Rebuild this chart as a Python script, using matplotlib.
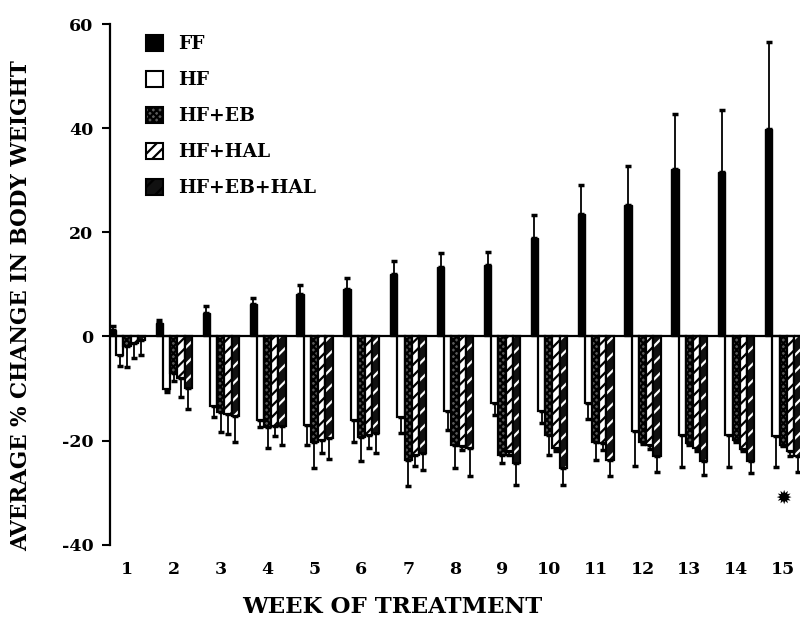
import matplotlib
matplotlib.use("Agg")
import matplotlib.pyplot as plt
import numpy as np
from matplotlib.patches import Patch

weeks = list(range(1, 16))
groups = ["FF", "HF", "HF+EB", "HF+HAL", "HF+EB+HAL"]

ff = [1.2, 2.6, 4.6, 6.3, 8.2, 9.1, 12.0, 13.4, 13.8, 19.0, 23.5, 25.3, 32.2, 31.6, 39.8]
ff_err = [0.9, 0.5, 1.2, 1.0, 1.7, 2.1, 2.5, 2.6, 2.5, 4.4, 5.5, 7.5, 10.6, 11.8, 16.8]

hf = [-3.5, -10.0, -13.4, -16.0, -17.0, -16.0, -15.4, -14.4, -12.8, -14.4, -12.8, -18.2, -18.9, -18.9, -19.2]
hf_err = [2.1, 0.6, 2.0, 1.4, 3.8, 4.2, 3.2, 3.6, 2.2, 2.2, 3.1, 6.6, 6.1, 6.1, 5.8]

hf_eb = [-1.8, -7.0, -14.6, -17.3, -20.2, -19.4, -23.7, -20.8, -22.7, -18.9, -20.2, -20.2, -20.5, -19.8, -20.8]
hf_eb_err = [4.1, 1.5, 3.8, 4.2, 5.1, 4.6, 5.1, 4.5, 1.6, 3.8, 3.5, 0.5, 0.4, 0.4, 0.3]

hf_hal = [-1.3, -8.0, -14.8, -17.2, -19.8, -18.9, -22.7, -21.0, -22.0, -21.4, -20.5, -20.8, -21.4, -21.6, -22.0]
hf_hal_err = [2.8, 3.7, 4.0, 2.0, 2.5, 2.5, 2.1, 0.8, 0.7, 0.5, 1.3, 0.8, 0.6, 0.4, 1.0]

hf_eb_hal = [-0.6, -9.9, -15.2, -17.2, -19.5, -18.6, -22.4, -21.4, -24.3, -25.3, -23.7, -23.0, -24.0, -24.0, -23.0]
hf_eb_hal_err = [3.0, 4.1, 5.0, 3.7, 4.1, 3.8, 3.2, 5.4, 4.2, 3.2, 3.1, 3.1, 2.6, 2.2, 3.0]

star_week = 15
star_value = -31

plt.rcParams['font.family'] = ['DejaVu Serif', 'Liberation Serif']
plt.rcParams['font.weight'] = 'bold'
plt.rcParams['axes.unicode_minus'] = False
plt.rcParams['hatch.linewidth'] = 1.6

fig = plt.figure(figsize=(8, 6.24), dpi=100)
ax = fig.add_axes([0.1375, 0.127, 0.8625, 0.8345])

x = np.array(weeks, dtype=float)
w = 0.154

def errs(vals, e):
    vals = np.array(vals); e = np.array(e)
    lower = np.where(vals < 0, e, 0)
    upper = np.where(vals >= 0, e, 0)
    return [lower, upper]

ekw = dict(ecolor='black', elinewidth=1.3, capsize=2.5, capthick=2.5)

# FF
ax.bar(x - 2*w, ff, w, color='black', edgecolor='black', linewidth=1.0, zorder=2)
ax.errorbar(x - 2*w, ff, yerr=errs(ff, ff_err), fmt='none', zorder=1, **ekw)
# HF
ax.bar(x - w, hf, w, color='white', edgecolor='black', linewidth=1.6, zorder=2)
ax.errorbar(x - w, hf, yerr=errs(hf, hf_err), fmt='none', zorder=1, **ekw)
# HF+EB
ax.bar(x, hf_eb, w, color='#5a5a5a', edgecolor='black', hatch='xxxxx', linewidth=1.6, zorder=2)
ax.errorbar(x, hf_eb, yerr=errs(hf_eb, hf_eb_err), fmt='none', zorder=1, **ekw)
# HF+HAL
ax.bar(x + w, hf_hal, w, color='white', edgecolor='black', hatch='///', linewidth=1.6, zorder=2)
ax.errorbar(x + w, hf_hal, yerr=errs(hf_hal, hf_hal_err), fmt='none', zorder=1, **ekw)
# HF+EB+HAL: black with white thin hatch
ax.bar(x + 2*w, hf_eb_hal, w, color='#111111', edgecolor='white', hatch='//', linewidth=0, zorder=2)
ax.bar(x + 2*w, hf_eb_hal, w, color='none', edgecolor='black', linewidth=1.6, zorder=3)
ax.errorbar(x + 2*w, hf_eb_hal, yerr=errs(hf_eb_hal, hf_eb_hal_err), fmt='none', zorder=1, **ekw)

ax.axhline(0, color='black', linewidth=1.6, zorder=4)

ax.text(star_week, star_value, '\u2739', ha='center', va='center', fontsize=14,
        family=['DejaVu Sans'], color='black')

ax.set_xlim(0.637, 15.36)
ax.set_ylim(-40, 60)
ax.set_yticks([-40, -20, 0, 20, 40, 60])
ax.set_xticks(weeks)
ax.set_xticklabels([str(v) for v in weeks])
for s in ['top', 'right', 'bottom']:
    ax.spines[s].set_visible(False)
ax.spines['left'].set_linewidth(1.6)
ax.tick_params(axis='y', direction='out', length=6, width=1.5, labelsize=12.5, pad=6)
ax.tick_params(axis='x', length=0, labelsize=12.5, pad=12)

fig.text(0.49, 0.027, 'WEEK OF TREATMENT', ha='center', va='center', fontsize=16.5, fontweight='bold')
fig.text(0.026, 0.511, 'AVERAGE % CHANGE IN BODY WEIGHT', ha='center', va='center',
         rotation=90, fontsize=15.5, fontweight='bold')

handles = [
    Patch(facecolor='black', edgecolor='black', linewidth=1.5),
    Patch(facecolor='white', edgecolor='black', linewidth=1.5),
    Patch(facecolor='#5a5a5a', edgecolor='black', hatch='xxxxx', linewidth=1.5),
    Patch(facecolor='white', edgecolor='black', hatch='///', linewidth=1.5),
    Patch(facecolor='#111111', edgecolor='black', hatch='//', linewidth=1.5),
]
leg = ax.legend(handles, groups, loc='upper left', bbox_to_anchor=(0.027, 1.012),
                frameon=False, handlelength=0.95, handleheight=0.95,
                labelspacing=0.93, handletextpad=0.8, prop={'weight': 'bold', 'size': 13.5})

fig.savefig('out.png', dpi=100)
